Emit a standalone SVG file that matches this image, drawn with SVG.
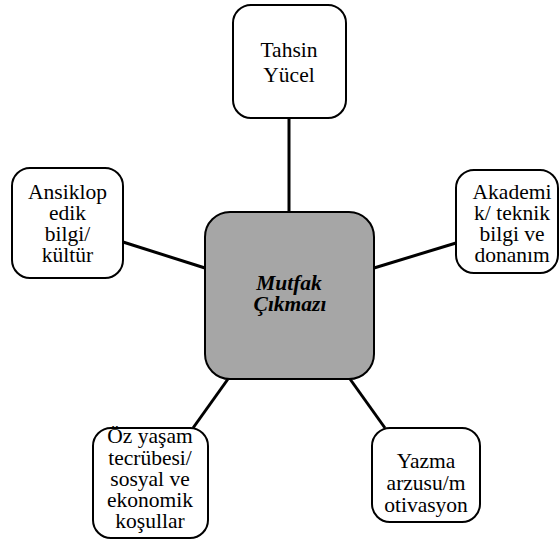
<svg xmlns="http://www.w3.org/2000/svg" width="559" height="544" viewBox="0 0 559 544">
<rect width="559" height="544" fill="#fff"/>
<g id="connectors" stroke="#000" stroke-width="3">
<line x1="289" y1="118" x2="289" y2="212"/>
<line x1="123" y1="242" x2="205" y2="268"/>
<line x1="374" y1="268" x2="456" y2="243"/>
<line x1="228" y1="379" x2="193" y2="428"/>
<line x1="350" y1="379" x2="385" y2="428"/>
</g>
<g id="center">
<rect fill="#a6a6a6" stroke="#000" stroke-width="2" x="205" y="212" width="169" height="167" rx="25" ry="25"/>
<text font-family="Liberation Serif" font-size="21.5" font-weight="bold" font-style="italic" text-anchor="middle" x="289" y="290">Mutfak</text>
<text font-family="Liberation Serif" font-size="21.5" font-weight="bold" font-style="italic" text-anchor="middle" x="290" y="311">Çıkmazı</text>
</g>
<g id="top">
<rect fill="#fff" stroke="#000" stroke-width="2" x="233" y="5" width="113" height="113" rx="18" ry="18"/>
<text font-family="Liberation Serif" font-size="21.5" text-anchor="middle" x="289" y="57">Tahsin</text>
<text font-family="Liberation Serif" font-size="21.5" text-anchor="middle" x="289" y="82">Yücel</text>
</g>
<g id="left">
<rect fill="#fff" stroke="#000" stroke-width="2" x="12" y="168" width="111" height="110" rx="18" ry="18"/>
<text font-family="Liberation Serif" font-size="21.5" text-anchor="middle" x="67.5" y="199">Ansiklop</text>
<text font-family="Liberation Serif" font-size="21.5" text-anchor="middle" x="67.5" y="220">edik</text>
<text font-family="Liberation Serif" font-size="21.5" text-anchor="middle" x="67.5" y="241">bilgi/</text>
<text font-family="Liberation Serif" font-size="21.5" text-anchor="middle" x="67.5" y="262">kültür</text>
</g>
<g id="right">
<rect fill="#fff" stroke="#000" stroke-width="2" x="456" y="170" width="102" height="103" rx="18" ry="18"/>
<text font-family="Liberation Serif" font-size="21.5" text-anchor="middle" x="512" y="199">Akademi</text>
<text font-family="Liberation Serif" font-size="21.5" text-anchor="middle" x="512" y="220">k/ teknik</text>
<text font-family="Liberation Serif" font-size="21.5" text-anchor="middle" x="512" y="241">bilgi ve</text>
<text font-family="Liberation Serif" font-size="21.5" text-anchor="middle" x="512" y="262">donanım</text>
</g>
<g id="bottom-left">
<rect fill="#fff" stroke="#000" stroke-width="2" x="93" y="428" width="115" height="110" rx="18" ry="18"/>
<text font-family="Liberation Serif" font-size="21.5" text-anchor="middle" x="150" y="443">Öz yaşam</text>
<text font-family="Liberation Serif" font-size="21.5" text-anchor="middle" x="150" y="465">tecrübesi/</text>
<text font-family="Liberation Serif" font-size="21.5" text-anchor="middle" x="150" y="486">sosyal ve</text>
<text font-family="Liberation Serif" font-size="21.5" text-anchor="middle" x="150" y="507">ekonomik</text>
<text font-family="Liberation Serif" font-size="21.5" text-anchor="middle" x="150" y="528">koşullar</text>
</g>
<g id="bottom-right">
<rect fill="#fff" stroke="#000" stroke-width="2" x="372" y="428" width="108" height="94" rx="18" ry="18"/>
<text font-family="Liberation Serif" font-size="21.5" text-anchor="middle" x="426" y="468">Yazma</text>
<text font-family="Liberation Serif" font-size="21.5" text-anchor="middle" x="426" y="490">arzusu/m</text>
<text font-family="Liberation Serif" font-size="21.5" text-anchor="middle" x="426" y="512">otivasyon</text>
</g>
</svg>
